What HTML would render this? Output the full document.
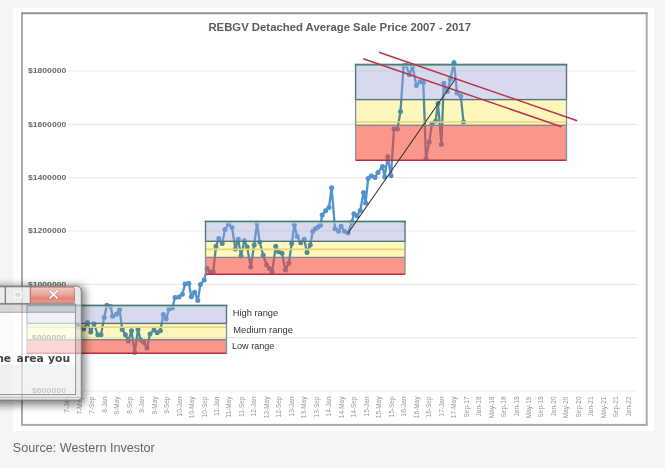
<!DOCTYPE html><html><head><meta charset="utf-8"><title>REBGV Detached Average Sale Price 2007 - 2017</title><style>
html,body{margin:0;padding:0;width:665px;height:468px;overflow:hidden;background:#f5f5f5;}
svg{position:absolute;left:0;top:0;display:block}
text{font-family:"Liberation Sans",Arial,sans-serif}
</style></head><body>
<svg width="665" height="468" viewBox="0 0 665 468">
<defs>
<filter id="sh" x="-30%" y="-30%" width="160%" height="160%"><feGaussianBlur stdDeviation="4.5"/></filter>
<linearGradient id="cg" x1="0" y1="0" x2="0" y2="1"><stop offset="0" stop-color="#f3c6bf"/><stop offset="0.45" stop-color="#eaa294"/><stop offset="0.7" stop-color="#df7a68"/><stop offset="1" stop-color="#e69a8a"/></linearGradient>
</defs>
<rect x="13" y="8" width="641" height="423" fill="#fff"/>
<rect x="22" y="13.3" width="624.7" height="411.6" fill="none" stroke="#aaaaaa" stroke-width="2"/>
<line x1="21" y1="13.3" x2="647.7" y2="13.3" stroke="#959595" stroke-width="1.5"/>
<text x="208.4" y="30.8" font-size="11" font-weight="bold" fill="#5c5c5c" textLength="262.6" lengthAdjust="spacingAndGlyphs">REBGV Detached Average Sale Price 2007 - 2017</text>
<line x1="68" y1="71" x2="637" y2="71" stroke="#e9e9e9" stroke-width="1.2"/>
<text x="27.9" y="73.4" font-size="6.6" font-weight="bold" fill="#6a6a6a" textLength="38.4" lengthAdjust="spacingAndGlyphs">$1800000</text>
<line x1="68" y1="124.3" x2="637" y2="124.3" stroke="#e9e9e9" stroke-width="1.2"/>
<text x="27.9" y="126.7" font-size="6.6" font-weight="bold" fill="#6a6a6a" textLength="38.4" lengthAdjust="spacingAndGlyphs">$1600000</text>
<line x1="68" y1="177.7" x2="637" y2="177.7" stroke="#e9e9e9" stroke-width="1.2"/>
<text x="27.9" y="180.1" font-size="6.6" font-weight="bold" fill="#6a6a6a" textLength="38.4" lengthAdjust="spacingAndGlyphs">$1400000</text>
<line x1="68" y1="231" x2="637" y2="231" stroke="#e9e9e9" stroke-width="1.2"/>
<text x="27.9" y="233.4" font-size="6.6" font-weight="bold" fill="#6a6a6a" textLength="38.4" lengthAdjust="spacingAndGlyphs">$1200000</text>
<line x1="68" y1="284.3" x2="637" y2="284.3" stroke="#e9e9e9" stroke-width="1.2"/>
<text x="27.9" y="286.7" font-size="6.6" font-weight="bold" fill="#6a6a6a" textLength="38.4" lengthAdjust="spacingAndGlyphs">$1000000</text>
<line x1="68" y1="337.7" x2="637" y2="337.7" stroke="#e9e9e9" stroke-width="1.2"/>
<text x="31.7" y="340.1" font-size="6.6" font-weight="bold" fill="#6a6a6a" textLength="34.6" lengthAdjust="spacingAndGlyphs">$800000</text>
<line x1="68" y1="391" x2="637" y2="391" stroke="#e9e9e9" stroke-width="1.2"/>
<text x="31.7" y="393.4" font-size="6.6" font-weight="bold" fill="#6a6a6a" textLength="34.6" lengthAdjust="spacingAndGlyphs">$600000</text>
<text transform="translate(69.2,396.5) rotate(-90)" text-anchor="end" font-size="6.5" fill="#959595">7-Jan</text>
<text transform="translate(81.7,396.5) rotate(-90)" text-anchor="end" font-size="6.5" fill="#959595">7-May</text>
<text transform="translate(94.2,396.5) rotate(-90)" text-anchor="end" font-size="6.5" fill="#959595">7-Sep</text>
<text transform="translate(106.6,396.5) rotate(-90)" text-anchor="end" font-size="6.5" fill="#959595">8-Jan</text>
<text transform="translate(119.1,396.5) rotate(-90)" text-anchor="end" font-size="6.5" fill="#959595">8-May</text>
<text transform="translate(131.6,396.5) rotate(-90)" text-anchor="end" font-size="6.5" fill="#959595">8-Sep</text>
<text transform="translate(144.1,396.5) rotate(-90)" text-anchor="end" font-size="6.5" fill="#959595">9-Jan</text>
<text transform="translate(156.6,396.5) rotate(-90)" text-anchor="end" font-size="6.5" fill="#959595">9-May</text>
<text transform="translate(169,396.5) rotate(-90)" text-anchor="end" font-size="6.5" fill="#959595">9-Sep</text>
<text transform="translate(181.5,396.5) rotate(-90)" text-anchor="end" font-size="6.5" fill="#959595">10-Jan</text>
<text transform="translate(194,396.5) rotate(-90)" text-anchor="end" font-size="6.5" fill="#959595">10-May</text>
<text transform="translate(206.5,396.5) rotate(-90)" text-anchor="end" font-size="6.5" fill="#959595">10-Sep</text>
<text transform="translate(219,396.5) rotate(-90)" text-anchor="end" font-size="6.5" fill="#959595">11-Jan</text>
<text transform="translate(231.4,396.5) rotate(-90)" text-anchor="end" font-size="6.5" fill="#959595">11-May</text>
<text transform="translate(243.9,396.5) rotate(-90)" text-anchor="end" font-size="6.5" fill="#959595">11-Sep</text>
<text transform="translate(256.4,396.5) rotate(-90)" text-anchor="end" font-size="6.5" fill="#959595">12-Jan</text>
<text transform="translate(268.9,396.5) rotate(-90)" text-anchor="end" font-size="6.5" fill="#959595">12-May</text>
<text transform="translate(281.4,396.5) rotate(-90)" text-anchor="end" font-size="6.5" fill="#959595">12-Sep</text>
<text transform="translate(293.8,396.5) rotate(-90)" text-anchor="end" font-size="6.5" fill="#959595">13-Jan</text>
<text transform="translate(306.3,396.5) rotate(-90)" text-anchor="end" font-size="6.5" fill="#959595">13-May</text>
<text transform="translate(318.8,396.5) rotate(-90)" text-anchor="end" font-size="6.5" fill="#959595">13-Sep</text>
<text transform="translate(331.3,396.5) rotate(-90)" text-anchor="end" font-size="6.5" fill="#959595">14-Jan</text>
<text transform="translate(343.8,396.5) rotate(-90)" text-anchor="end" font-size="6.5" fill="#959595">14-May</text>
<text transform="translate(356.2,396.5) rotate(-90)" text-anchor="end" font-size="6.5" fill="#959595">14-Sep</text>
<text transform="translate(368.7,396.5) rotate(-90)" text-anchor="end" font-size="6.5" fill="#959595">15-Jan</text>
<text transform="translate(381.2,396.5) rotate(-90)" text-anchor="end" font-size="6.5" fill="#959595">15-May</text>
<text transform="translate(393.7,396.5) rotate(-90)" text-anchor="end" font-size="6.5" fill="#959595">15-Sep</text>
<text transform="translate(406.2,396.5) rotate(-90)" text-anchor="end" font-size="6.5" fill="#959595">16-Jan</text>
<text transform="translate(418.6,396.5) rotate(-90)" text-anchor="end" font-size="6.5" fill="#959595">16-May</text>
<text transform="translate(431.1,396.5) rotate(-90)" text-anchor="end" font-size="6.5" fill="#959595">16-Sep</text>
<text transform="translate(443.6,396.5) rotate(-90)" text-anchor="end" font-size="6.5" fill="#959595">17-Jan</text>
<text transform="translate(456.1,396.5) rotate(-90)" text-anchor="end" font-size="6.5" fill="#959595">17-May</text>
<text transform="translate(468.6,396.5) rotate(-90)" text-anchor="end" font-size="6.5" fill="#959595">Sep-17</text>
<text transform="translate(481,396.5) rotate(-90)" text-anchor="end" font-size="6.5" fill="#959595">Jan-18</text>
<text transform="translate(493.5,396.5) rotate(-90)" text-anchor="end" font-size="6.5" fill="#959595">May-18</text>
<text transform="translate(506,396.5) rotate(-90)" text-anchor="end" font-size="6.5" fill="#959595">Sep-18</text>
<text transform="translate(518.5,396.5) rotate(-90)" text-anchor="end" font-size="6.5" fill="#959595">Jan-19</text>
<text transform="translate(531,396.5) rotate(-90)" text-anchor="end" font-size="6.5" fill="#959595">May-19</text>
<text transform="translate(543.4,396.5) rotate(-90)" text-anchor="end" font-size="6.5" fill="#959595">Sep-19</text>
<text transform="translate(555.9,396.5) rotate(-90)" text-anchor="end" font-size="6.5" fill="#959595">Jan-20</text>
<text transform="translate(568.4,396.5) rotate(-90)" text-anchor="end" font-size="6.5" fill="#959595">May-20</text>
<text transform="translate(580.9,396.5) rotate(-90)" text-anchor="end" font-size="6.5" fill="#959595">Sep-20</text>
<text transform="translate(593.4,396.5) rotate(-90)" text-anchor="end" font-size="6.5" fill="#959595">Jan-21</text>
<text transform="translate(605.8,396.5) rotate(-90)" text-anchor="end" font-size="6.5" fill="#959595">May-21</text>
<text transform="translate(618.3,396.5) rotate(-90)" text-anchor="end" font-size="6.5" fill="#959595">Sep-21</text>
<text transform="translate(630.8,396.5) rotate(-90)" text-anchor="end" font-size="6.5" fill="#959595">Jan-22</text>
<polyline points="78,326 83.7,329 87.6,322.6 90.8,332 94,323.8 97.8,334.7 101,334.7 104.2,317.4 106.8,305.3 110.6,306.5 112.6,316.2 116.4,314.2 119.6,309.7 122.2,329.6 125.4,334.7 128.3,341 131.5,330.8 134.7,352.6 138,329.5 140.5,339.7 143.7,342.3 147,348 150,334 154,330 157.2,332.7 160.4,330.8 163.3,314.5 166.2,319 169,309 172.3,308 175,297.5 179,297 182.4,294.2 185,284 188.8,283.3 191.4,296.8 194.6,292.3 197.8,300.6 200.4,284.6 204.2,280.1 207,268.5 210.4,272 213.2,272 216,246.3 218.8,238.6 222.2,243.5 225,229.6 228.5,224 232,227.5 235.4,249 238.2,239.3 241,256 244.4,240.7 247.2,247 250.7,267 254.2,244.9 257,223.3 259.7,242 263.2,255.3 266.7,265 269.4,268.5 272.2,272 275.7,246.3 278.5,251.8 282,253.2 285.4,269.9 288.9,262.9 291.7,243.5 294.4,224.7 297.2,236.5 300.7,242.8 304.2,239.3 307,252.5 310.3,245 312.8,231.3 315.4,228.7 318,227 320.5,225.3 322.2,215 325.6,210.8 329,207.4 331.6,187.7 335,228.7 338.5,231.3 341,226.2 344.4,231.3 347.9,233 351.8,222.3 353.9,213.7 357,215.9 360.3,210.5 363.5,192.4 365.6,203 368.2,178.4 371.2,176.1 375,177.6 378,172.4 382.5,166.4 384.7,176.9 387.7,156.7 391,175.7 394,129 397.4,129 400.5,111.5 403.6,65.7 406.2,65.2 409.4,74.8 412.6,66.2 416.4,85.5 420.1,81.7 423.3,82.5 426,158.5 429.2,141.9 432,123.5 435.6,121 438,103.5 441.4,144.2 443.8,83.2 447.3,91.4 450.3,79.3 454,62.5 457,93 460.8,96 463.5,122" fill="none" stroke="#4f92cc" stroke-width="2.3" stroke-linejoin="round"/>
<circle cx="78" cy="326" r="2.5" fill="#4f92cc"/>
<circle cx="83.7" cy="329" r="2.5" fill="#4f92cc"/>
<circle cx="87.6" cy="322.6" r="2.5" fill="#4f92cc"/>
<circle cx="90.8" cy="332" r="2.5" fill="#4f92cc"/>
<circle cx="94" cy="323.8" r="2.5" fill="#4f92cc"/>
<circle cx="97.8" cy="334.7" r="2.5" fill="#4f92cc"/>
<circle cx="101" cy="334.7" r="2.5" fill="#4f92cc"/>
<circle cx="104.2" cy="317.4" r="2.5" fill="#4f92cc"/>
<circle cx="106.8" cy="305.3" r="2.5" fill="#4f92cc"/>
<circle cx="110.6" cy="306.5" r="2.5" fill="#4f92cc"/>
<circle cx="112.6" cy="316.2" r="2.5" fill="#4f92cc"/>
<circle cx="116.4" cy="314.2" r="2.5" fill="#4f92cc"/>
<circle cx="119.6" cy="309.7" r="2.5" fill="#4f92cc"/>
<circle cx="122.2" cy="329.6" r="2.5" fill="#4f92cc"/>
<circle cx="125.4" cy="334.7" r="2.5" fill="#4f92cc"/>
<circle cx="128.3" cy="341" r="2.5" fill="#4f92cc"/>
<circle cx="131.5" cy="330.8" r="2.5" fill="#4f92cc"/>
<circle cx="134.7" cy="352.6" r="2.5" fill="#4f92cc"/>
<circle cx="138" cy="329.5" r="2.5" fill="#4f92cc"/>
<circle cx="140.5" cy="339.7" r="2.5" fill="#4f92cc"/>
<circle cx="143.7" cy="342.3" r="2.5" fill="#4f92cc"/>
<circle cx="147" cy="348" r="2.5" fill="#4f92cc"/>
<circle cx="150" cy="334" r="2.5" fill="#4f92cc"/>
<circle cx="154" cy="330" r="2.5" fill="#4f92cc"/>
<circle cx="157.2" cy="332.7" r="2.5" fill="#4f92cc"/>
<circle cx="160.4" cy="330.8" r="2.5" fill="#4f92cc"/>
<circle cx="163.3" cy="314.5" r="2.5" fill="#4f92cc"/>
<circle cx="166.2" cy="319" r="2.5" fill="#4f92cc"/>
<circle cx="169" cy="309" r="2.5" fill="#4f92cc"/>
<circle cx="172.3" cy="308" r="2.5" fill="#4f92cc"/>
<circle cx="175" cy="297.5" r="2.5" fill="#4f92cc"/>
<circle cx="179" cy="297" r="2.5" fill="#4f92cc"/>
<circle cx="182.4" cy="294.2" r="2.5" fill="#4f92cc"/>
<circle cx="185" cy="284" r="2.5" fill="#4f92cc"/>
<circle cx="188.8" cy="283.3" r="2.5" fill="#4f92cc"/>
<circle cx="191.4" cy="296.8" r="2.5" fill="#4f92cc"/>
<circle cx="194.6" cy="292.3" r="2.5" fill="#4f92cc"/>
<circle cx="197.8" cy="300.6" r="2.5" fill="#4f92cc"/>
<circle cx="200.4" cy="284.6" r="2.5" fill="#4f92cc"/>
<circle cx="204.2" cy="280.1" r="2.5" fill="#4f92cc"/>
<circle cx="207" cy="268.5" r="2.5" fill="#4f92cc"/>
<circle cx="210.4" cy="272" r="2.5" fill="#4f92cc"/>
<circle cx="213.2" cy="272" r="2.5" fill="#4f92cc"/>
<circle cx="216" cy="246.3" r="2.5" fill="#4f92cc"/>
<circle cx="218.8" cy="238.6" r="2.5" fill="#4f92cc"/>
<circle cx="222.2" cy="243.5" r="2.5" fill="#4f92cc"/>
<circle cx="225" cy="229.6" r="2.5" fill="#4f92cc"/>
<circle cx="228.5" cy="224" r="2.5" fill="#4f92cc"/>
<circle cx="232" cy="227.5" r="2.5" fill="#4f92cc"/>
<circle cx="235.4" cy="249" r="2.5" fill="#4f92cc"/>
<circle cx="238.2" cy="239.3" r="2.5" fill="#4f92cc"/>
<circle cx="241" cy="256" r="2.5" fill="#4f92cc"/>
<circle cx="244.4" cy="240.7" r="2.5" fill="#4f92cc"/>
<circle cx="247.2" cy="247" r="2.5" fill="#4f92cc"/>
<circle cx="250.7" cy="267" r="2.5" fill="#4f92cc"/>
<circle cx="254.2" cy="244.9" r="2.5" fill="#4f92cc"/>
<circle cx="257" cy="223.3" r="2.5" fill="#4f92cc"/>
<circle cx="259.7" cy="242" r="2.5" fill="#4f92cc"/>
<circle cx="263.2" cy="255.3" r="2.5" fill="#4f92cc"/>
<circle cx="266.7" cy="265" r="2.5" fill="#4f92cc"/>
<circle cx="269.4" cy="268.5" r="2.5" fill="#4f92cc"/>
<circle cx="272.2" cy="272" r="2.5" fill="#4f92cc"/>
<circle cx="275.7" cy="246.3" r="2.5" fill="#4f92cc"/>
<circle cx="278.5" cy="251.8" r="2.5" fill="#4f92cc"/>
<circle cx="282" cy="253.2" r="2.5" fill="#4f92cc"/>
<circle cx="285.4" cy="269.9" r="2.5" fill="#4f92cc"/>
<circle cx="288.9" cy="262.9" r="2.5" fill="#4f92cc"/>
<circle cx="291.7" cy="243.5" r="2.5" fill="#4f92cc"/>
<circle cx="294.4" cy="224.7" r="2.5" fill="#4f92cc"/>
<circle cx="297.2" cy="236.5" r="2.5" fill="#4f92cc"/>
<circle cx="300.7" cy="242.8" r="2.5" fill="#4f92cc"/>
<circle cx="304.2" cy="239.3" r="2.5" fill="#4f92cc"/>
<circle cx="307" cy="252.5" r="2.5" fill="#4f92cc"/>
<circle cx="310.3" cy="245" r="2.5" fill="#4f92cc"/>
<circle cx="312.8" cy="231.3" r="2.5" fill="#4f92cc"/>
<circle cx="315.4" cy="228.7" r="2.5" fill="#4f92cc"/>
<circle cx="318" cy="227" r="2.5" fill="#4f92cc"/>
<circle cx="320.5" cy="225.3" r="2.5" fill="#4f92cc"/>
<circle cx="322.2" cy="215" r="2.5" fill="#4f92cc"/>
<circle cx="325.6" cy="210.8" r="2.5" fill="#4f92cc"/>
<circle cx="329" cy="207.4" r="2.5" fill="#4f92cc"/>
<circle cx="331.6" cy="187.7" r="2.5" fill="#4f92cc"/>
<circle cx="335" cy="228.7" r="2.5" fill="#4f92cc"/>
<circle cx="338.5" cy="231.3" r="2.5" fill="#4f92cc"/>
<circle cx="341" cy="226.2" r="2.5" fill="#4f92cc"/>
<circle cx="344.4" cy="231.3" r="2.5" fill="#4f92cc"/>
<circle cx="347.9" cy="233" r="2.5" fill="#4f92cc"/>
<circle cx="351.8" cy="222.3" r="2.5" fill="#4f92cc"/>
<circle cx="353.9" cy="213.7" r="2.5" fill="#4f92cc"/>
<circle cx="357" cy="215.9" r="2.5" fill="#4f92cc"/>
<circle cx="360.3" cy="210.5" r="2.5" fill="#4f92cc"/>
<circle cx="363.5" cy="192.4" r="2.5" fill="#4f92cc"/>
<circle cx="365.6" cy="203" r="2.5" fill="#4f92cc"/>
<circle cx="368.2" cy="178.4" r="2.5" fill="#4f92cc"/>
<circle cx="371.2" cy="176.1" r="2.5" fill="#4f92cc"/>
<circle cx="375" cy="177.6" r="2.5" fill="#4f92cc"/>
<circle cx="378" cy="172.4" r="2.5" fill="#4f92cc"/>
<circle cx="382.5" cy="166.4" r="2.5" fill="#4f92cc"/>
<circle cx="384.7" cy="176.9" r="2.5" fill="#4f92cc"/>
<circle cx="387.7" cy="156.7" r="2.5" fill="#4f92cc"/>
<circle cx="391" cy="175.7" r="2.5" fill="#4f92cc"/>
<circle cx="394" cy="129" r="2.5" fill="#4f92cc"/>
<circle cx="397.4" cy="129" r="2.5" fill="#4f92cc"/>
<circle cx="400.5" cy="111.5" r="2.5" fill="#4f92cc"/>
<circle cx="403.6" cy="65.7" r="2.5" fill="#4f92cc"/>
<circle cx="406.2" cy="65.2" r="2.5" fill="#4f92cc"/>
<circle cx="409.4" cy="74.8" r="2.5" fill="#4f92cc"/>
<circle cx="412.6" cy="66.2" r="2.5" fill="#4f92cc"/>
<circle cx="416.4" cy="85.5" r="2.5" fill="#4f92cc"/>
<circle cx="420.1" cy="81.7" r="2.5" fill="#4f92cc"/>
<circle cx="423.3" cy="82.5" r="2.5" fill="#4f92cc"/>
<circle cx="426" cy="158.5" r="2.5" fill="#4f92cc"/>
<circle cx="429.2" cy="141.9" r="2.5" fill="#4f92cc"/>
<circle cx="432" cy="123.5" r="2.5" fill="#4f92cc"/>
<circle cx="435.6" cy="121" r="2.5" fill="#4f92cc"/>
<circle cx="438" cy="103.5" r="2.5" fill="#4f92cc"/>
<circle cx="441.4" cy="144.2" r="2.5" fill="#4f92cc"/>
<circle cx="443.8" cy="83.2" r="2.5" fill="#4f92cc"/>
<circle cx="447.3" cy="91.4" r="2.5" fill="#4f92cc"/>
<circle cx="450.3" cy="79.3" r="2.5" fill="#4f92cc"/>
<circle cx="454" cy="62.5" r="2.5" fill="#4f92cc"/>
<circle cx="457" cy="93" r="2.5" fill="#4f92cc"/>
<circle cx="460.8" cy="96" r="2.5" fill="#4f92cc"/>
<circle cx="463.5" cy="122" r="2.5" fill="#4f92cc"/>
<rect x="27" y="305.5" width="199.5" height="17.899999999999977" fill="#9aa1d2" fill-opacity="0.4"/><rect x="27" y="323.4" width="199.5" height="16.30000000000001" fill="#fef7bc" style="mix-blend-mode:multiply"/><line x1="27" y1="327.2" x2="226.5" y2="327.2" stroke="#ecd377" stroke-width="1.6"/><rect x="27" y="339.7" width="199.5" height="13.5" fill="#f6402a" fill-opacity="0.55"/><rect x="27" y="305.5" width="199.5" height="17.899999999999977" fill="none" stroke="#557585" stroke-width="1.4"/><line x1="27.8" y1="306.9" x2="225.7" y2="306.9" stroke="#c4e2e2" stroke-width="1"/><line x1="26.2" y1="305.5" x2="227.3" y2="305.5" stroke="#4d7e76" stroke-width="1.6"/><line x1="27" y1="339.7" x2="226.5" y2="339.7" stroke="#7f868f" stroke-width="1.4"/><line x1="27" y1="353.2" x2="226.5" y2="353.2" stroke="#b52f42" stroke-width="1.6"/><line x1="27" y1="323.4" x2="27" y2="353.9" stroke="#82919a" stroke-width="1.3"/><line x1="226.5" y1="323.4" x2="226.5" y2="353.9" stroke="#82919a" stroke-width="1.3"/>
<rect x="205.5" y="221.5" width="199.5" height="19.80000000000001" fill="#9aa1d2" fill-opacity="0.4"/><rect x="205.5" y="241.3" width="199.5" height="16.099999999999966" fill="#fef7bc" style="mix-blend-mode:multiply"/><line x1="205.5" y1="249.4" x2="405" y2="249.4" stroke="#ecd377" stroke-width="1.6"/><rect x="205.5" y="257.4" width="199.5" height="16.900000000000034" fill="#f6402a" fill-opacity="0.55"/><rect x="205.5" y="221.5" width="199.5" height="19.80000000000001" fill="none" stroke="#557585" stroke-width="1.4"/><line x1="206.3" y1="222.9" x2="404.2" y2="222.9" stroke="#c4e2e2" stroke-width="1"/><line x1="204.7" y1="221.5" x2="405.8" y2="221.5" stroke="#4d7e76" stroke-width="1.6"/><line x1="205.5" y1="257.4" x2="405" y2="257.4" stroke="#7f868f" stroke-width="1.4"/><line x1="205.5" y1="274.3" x2="405" y2="274.3" stroke="#b52f42" stroke-width="1.6"/><line x1="205.5" y1="241.3" x2="205.5" y2="275.0" stroke="#82919a" stroke-width="1.3"/><line x1="405" y1="241.3" x2="405" y2="275.0" stroke="#82919a" stroke-width="1.3"/>
<rect x="355.6" y="64.6" width="210.89999999999998" height="35.0" fill="#9aa1d2" fill-opacity="0.4"/><rect x="355.6" y="99.6" width="210.89999999999998" height="25.80000000000001" fill="#fef7bc" style="mix-blend-mode:multiply"/><line x1="355.6" y1="122" x2="566.5" y2="122" stroke="#ecd377" stroke-width="1.6"/><rect x="355.6" y="125.4" width="210.89999999999998" height="34.900000000000006" fill="#f6402a" fill-opacity="0.55"/><rect x="355.6" y="64.6" width="210.89999999999998" height="35.0" fill="none" stroke="#557585" stroke-width="1.4"/><line x1="356.40000000000003" y1="66.0" x2="565.7" y2="66.0" stroke="#c4e2e2" stroke-width="1"/><line x1="354.8" y1="64.6" x2="567.3" y2="64.6" stroke="#4d7e76" stroke-width="1.6"/><line x1="355.6" y1="125.4" x2="566.5" y2="125.4" stroke="#7f868f" stroke-width="1.4"/><line x1="355.6" y1="160.3" x2="566.5" y2="160.3" stroke="#b52f42" stroke-width="1.6"/><line x1="355.6" y1="99.6" x2="355.6" y2="161.0" stroke="#82919a" stroke-width="1.3"/><line x1="566.5" y1="99.6" x2="566.5" y2="161.0" stroke="#82919a" stroke-width="1.3"/>
<text x="232.7" y="316.4" font-size="9.3" fill="#333" textLength="45.5" lengthAdjust="spacingAndGlyphs">High range</text>
<text x="233.3" y="333.3" font-size="9.3" fill="#333" textLength="59.7" lengthAdjust="spacingAndGlyphs">Medium range</text>
<text x="232" y="349.4" font-size="9.3" fill="#333" textLength="42.4" lengthAdjust="spacingAndGlyphs">Low range</text>
<line x1="378.9" y1="52.2" x2="577.2" y2="120.7" stroke="#bd3349" stroke-width="1.5"/>
<line x1="363.2" y1="58.8" x2="561.5" y2="126.7" stroke="#bd3349" stroke-width="1.5"/>
<line x1="348" y1="233.2" x2="455.7" y2="78.5" stroke="#333" stroke-width="1.1"/>
<mask id="wm" maskUnits="userSpaceOnUse" x="0" y="0" width="665" height="468"><rect x="0" y="0" width="665" height="468" fill="#fff"/><path d="M-20 286.2 H76.3 Q81.3 286.2 81.3 291.2 V397.6 Q81.3 400.1 78.8 400.1 H-20 Z" fill="#000"/></mask>
<g mask="url(#wm)"><rect x="-20" y="284" width="103" height="119" rx="6" fill="#000" fill-opacity="0.5" filter="url(#sh)" transform="translate(2,2)"/></g>
<path d="M-20 286.2 H76.3 Q81.3 286.2 81.3 291.2 V397.6 Q81.3 400.1 78.8 400.1 H-20 Z M-20 304 V394.5 H75.6 V304 Z" fill-rule="evenodd" fill="#d9dbe0" fill-opacity="0.6"/>
<path d="M-20 286.2 H76.3 Q81.3 286.2 81.3 291.2 V397.6 Q81.3 400.1 78.8 400.1 H-20 Z" fill="none" stroke="#7c7c7c" stroke-width="1"/>
<rect x="-10" y="286.8" width="15.3" height="16.6" fill="#f2f2f4" fill-opacity="0.45" stroke="#707070" stroke-width="0.9"/>
<rect x="5.3" y="286.8" width="25" height="16.6" fill="#f2f2f4" fill-opacity="0.45" stroke="#707070" stroke-width="0.9"/>
<rect x="14.6" y="292" width="6.8" height="5.4" fill="#c8c8cc" fill-opacity="0.5" stroke="#ffffff" stroke-opacity="0.85" stroke-width="1.4"/>
<rect x="30.4" y="287.2" width="44" height="15.9" rx="2.2" fill="url(#cg)" fill-opacity="0.9" stroke="#b86a5e" stroke-width="0.8"/>
<path d="M50 291 L57 298 M57 291 L50 298" stroke="#8a6a66" stroke-width="3" stroke-linecap="round" stroke-opacity="0.35"/>
<path d="M50 291 L57 298 M57 291 L50 298" stroke="#fff" stroke-width="1.7" stroke-linecap="round"/>
<rect x="-20" y="304" width="95.6" height="8.3" fill="#c2c5c9" fill-opacity="0.65"/>
<line x1="-20" y1="304" x2="75.6" y2="304" stroke="#858585" stroke-width="0.9"/>
<line x1="-20" y1="312.3" x2="75.6" y2="312.3" stroke="#999" stroke-width="0.9"/>
<rect x="-20" y="312.8" width="95.6" height="51.7" fill="#fff" fill-opacity="0.62"/>
<rect x="-20" y="364.5" width="95.6" height="29.8" fill="#eeeeee" fill-opacity="0.72"/>
<rect x="-20" y="304" width="95.6" height="90.5" fill="none" stroke="#8f8f8f" stroke-width="0.9"/>
<line x1="-20" y1="397.5" x2="81" y2="397.5" stroke="#c0c0c0" stroke-width="1"/>
<text y="361.6" font-size="10.8" font-weight="bold" fill="#444" style="font-family:'DejaVu Sans',sans-serif"><tspan x="-9">the</tspan> <tspan x="16.6">area</tspan> <tspan x="48">you</tspan></text>
<text x="12.8" y="452.2" font-size="12.3" fill="#62686c" textLength="142" lengthAdjust="spacingAndGlyphs">Source: Western Investor</text>
</svg>
</body></html>
